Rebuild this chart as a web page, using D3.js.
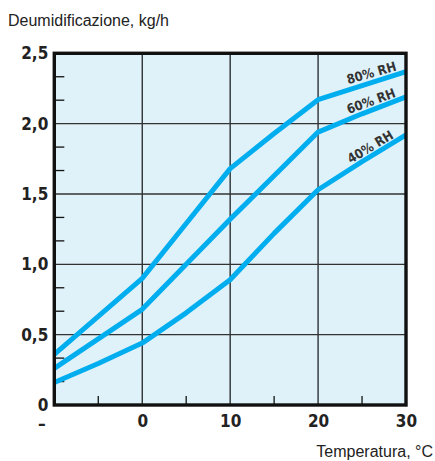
<!DOCTYPE html>
<html>
<head>
<meta charset="utf-8">
<script src="https://cdn.jsdelivr.net/npm/d3@7"></script>
<style>
  body { margin: 0; background: #fff; }
  .tick-lab { font-family: "Liberation Sans Narrow", "DejaVu Sans Condensed", sans-serif; font-weight: bold; font-size: 17px; fill: #222; }
  .ttl { font-family: "Liberation Sans", Arial, sans-serif; font-size: 16px; fill: #222; }
  .rh { font-family: "Liberation Sans Narrow", "DejaVu Sans Condensed", sans-serif; font-weight: bold; font-size: 13px; fill: #333; }
</style>
</head>
<body>
<div id="chart"></div>
<script>
// data
var temps = [-10, -5, 0, 5, 10, 15, 20, 25, 30];
var rh80 = [0.36, 0.63, 0.90, 1.29, 1.68, 1.93, 2.17, 2.27, 2.37];
var rh60 = [0.26, 0.47, 0.68, 1.00, 1.32, 1.63, 1.94, 2.07, 2.19];
var rh40 = [0.16, 0.295, 0.44, 0.655, 0.89, 1.22, 1.53, 1.73, 1.92];
var seriesNames = ["80% RH", "60% RH", "40% RH"];
var labelAngles = [-16, -20, -31];

var xTicks = [-10, 0, 10, 20, 30];
var xTickLabels = ["–", "0", "10", "20", "30"];
var xMinor = [-5, 5, 15, 25];
var yTicks = [0, 0.5, 1, 1.5, 2, 2.5];
var yTickLabels = ["0", "0,5", "1,0", "1,5", "2,0", "2,5"];
var yMinor = [1/6, 2/6, 4/6, 5/6, 7/6, 8/6, 10/6, 11/6, 13/6, 14/6];

var W = 435, H = 461;
var margin = {top: 53.3, right: 29, bottom: 56, left: 54.3};
var width = W - margin.left - margin.right,
    height = H - margin.top - margin.bottom;

var svg = d3.select("#chart").append("svg")
    .attr("width", W)
    .attr("height", H);

var g = svg.append("g")
    .attr("transform", "translate(" + margin.left + "," + margin.top + ")");

var x = d3.scaleLinear().domain([-10, 30]).range([0, width]);
var y = d3.scaleLinear().domain([0, 2.5]).range([height, 0]);

// background
g.append("rect")
    .attr("width", width)
    .attr("height", height)
    .attr("fill", "#dff2fa");

// grid
g.selectAll(".vgrid")
    .data([0, 10, 20])
    .enter().append("line")
    .attr("x1", function(d) { return x(d); })
    .attr("x2", function(d) { return x(d); })
    .attr("y1", 0).attr("y2", height)
    .attr("stroke", "#111").attr("stroke-width", 1.2);

g.selectAll(".hgrid")
    .data([0.5, 1, 1.5, 2])
    .enter().append("line")
    .attr("x1", 0).attr("x2", width)
    .attr("y1", function(d) { return y(d); })
    .attr("y2", function(d) { return y(d); })
    .attr("stroke", "#333").attr("stroke-width", 1.3);

// minor ticks (inside)
g.selectAll(".ym")
    .data(yMinor)
    .enter().append("line")
    .attr("x1", 0).attr("x2", 10)
    .attr("y1", function(d) { return y(d); })
    .attr("y2", function(d) { return y(d); })
    .attr("stroke", "#111").attr("stroke-width", 1.3);

g.selectAll(".xm")
    .data(xMinor)
    .enter().append("line")
    .attr("x1", function(d) { return x(d); })
    .attr("x2", function(d) { return x(d); })
    .attr("y1", height).attr("y2", height - 9)
    .attr("stroke", "#111").attr("stroke-width", 1.3);

// curves
var line = d3.line()
    .x(function(d, i) { return x(temps[i]); })
    .y(function(d) { return y(d); });

var allSeries = [rh80, rh60, rh40];
g.selectAll(".curve")
    .data(allSeries)
    .enter().append("path")
    .attr("d", line)
    .attr("fill", "none")
    .attr("stroke", "#00aeef")
    .attr("stroke-width", 5)
    .attr("stroke-linejoin", "round")
    .attr("stroke-linecap", "butt");

// series labels
var labT = 26.2;
allSeries.forEach(function(s, k) {
    var v = s[6] + (s[8] - s[6]) * (labT - 20) / 10;
    var px = x(labT), py = y(v) - 5;
    g.append("text")
        .attr("class", "rh")
        .attr("text-anchor", "middle")
        .attr("transform", "translate(" + px + "," + py + ") rotate(" + labelAngles[k] + ")")
        .text(seriesNames[k]);
});

// frame
g.append("rect")
    .attr("width", width)
    .attr("height", height)
    .attr("fill", "none")
    .attr("stroke", "#111")
    .attr("stroke-width", 3.4);

// axes
var yAxis = g.append("g")
    .call(d3.axisLeft(y).tickValues(yTicks)
        .tickFormat(function(d, i) { return yTickLabels[i]; })
        .tickSize(0).tickPadding(6));
yAxis.select(".domain").remove();
yAxis.selectAll("text").attr("class", "tick-lab").attr("fill", null)
    .attr("font-size", null).attr("font-family", null);

var xAxis = g.append("g")
    .attr("transform", "translate(0," + height + ")")
    .call(d3.axisBottom(x).tickValues(xTicks)
        .tickFormat(function(d, i) { return xTickLabels[i]; })
        .tickSize(0).tickPadding(10));
xAxis.select(".domain").remove();
xAxis.selectAll("text").attr("class", "tick-lab").attr("fill", null)
    .attr("font-size", null).attr("font-family", null)
    .attr("dx", function(d, i) { return i === 0 ? -13 : 0; })
    .attr("dy", function(d, i) { return i === 0 ? "0.9em" : "0.71em"; });
xAxis.attr("font-size", null).attr("font-family", null);
yAxis.attr("font-size", null).attr("font-family", null);

// titles
svg.append("text")
    .attr("class", "ttl")
    .attr("x", 8).attr("y", 26)
    .text("Deumidificazione, kg/h");

svg.append("text")
    .attr("class", "ttl")
    .attr("x", 433).attr("y", 457)
    .attr("text-anchor", "end")
    .text("Temperatura, °C");
</script>
</body>
</html>
